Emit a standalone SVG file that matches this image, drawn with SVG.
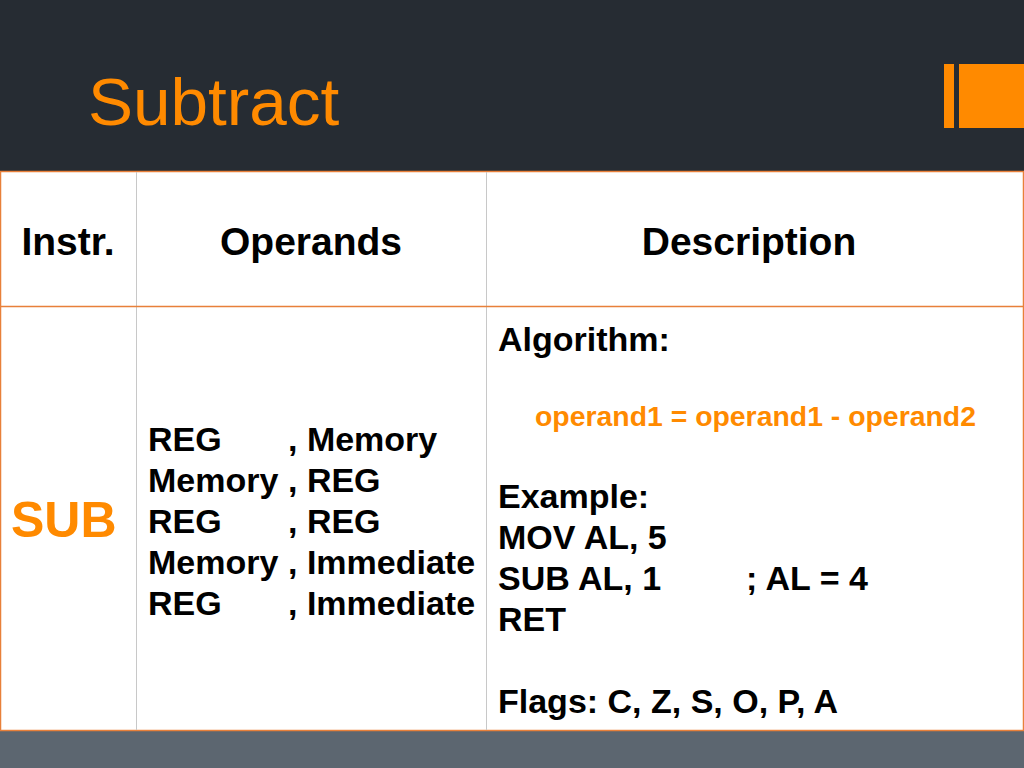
<svg xmlns="http://www.w3.org/2000/svg" width="1024" height="768" viewBox="0 0 1024 768">
<style>
.t{font-family:"Liberation Sans",Arial,sans-serif;font-weight:bold;fill:#000}
.h{font-size:39px;text-anchor:middle}
.b{font-size:34px}
.o{fill:#ff8a00}
.grid{stroke:#c8c8c8;stroke-width:1}
</style>
<rect x="0" y="0" width="1024" height="171" fill="#262c33"/>
<rect x="0" y="731" width="1024" height="37" fill="#5c6670"/>
<g id="title">
<text x="88" y="125" font-family="Liberation Sans,Arial,sans-serif" font-size="67.5" fill="#ff8a00">Subtract</text>
</g>
<g id="logo">
<rect x="944" y="64" width="10" height="64" fill="#ff8a00"/>
<rect x="959" y="64" width="65" height="64" fill="#ff8a00"/>
</g>
<g id="table">
<rect x="0.5" y="171.5" width="1023" height="559" fill="#fff" stroke="#e8803a" stroke-width="1.5"/>
<line class="grid" x1="136.5" y1="172" x2="136.5" y2="730"/>
<line class="grid" x1="486.5" y1="172" x2="486.5" y2="730"/>
<line x1="0" y1="306.5" x2="1024" y2="306.5" stroke="#e8803a" stroke-width="1.5"/>
</g>
<g id="header">
<text class="t h" x="68" y="255">Instr.</text>
<text class="t h" x="311" y="255">Operands</text>
<text class="t h" x="749" y="255">Description</text>
</g>
<g id="instr">
<text class="t o" x="11" y="537" font-size="50">SUB</text>
</g>
<g id="operands">
<text class="t b" x="148" y="451">REG<tspan x="288">, Memory</tspan></text>
<text class="t b" x="148" y="492">Memory<tspan x="288">, REG</tspan></text>
<text class="t b" x="148" y="533">REG<tspan x="288">, REG</tspan></text>
<text class="t b" x="148" y="574">Memory<tspan x="288">, Immediate</tspan></text>
<text class="t b" x="148" y="615">REG<tspan x="288">, Immediate</tspan></text>
</g>
<g id="description">
<text class="t b" x="498" y="351">Algorithm:</text>
<text class="t o" x="535" y="426" font-size="28.4">operand1 = operand1 - operand2</text>
<text class="t b" x="498" y="508">Example:</text>
<text class="t b" x="498" y="549">MOV AL, 5</text>
<text class="t b" x="498" y="590">SUB AL, 1<tspan x="746">; AL = 4</tspan></text>
<text class="t b" x="498" y="631">RET</text>
<text class="t b" x="498" y="713">Flags: C, Z, S, O, P, A</text>
</g>
</svg>
